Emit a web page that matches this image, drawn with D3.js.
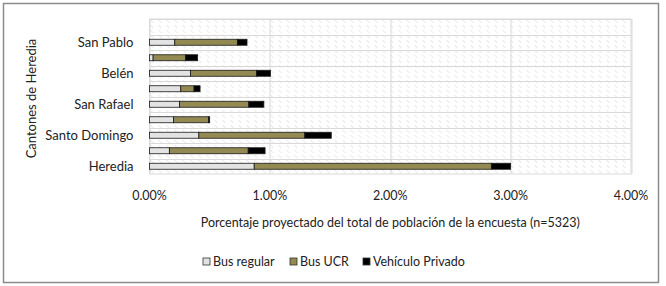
<!doctype html>
<html>
  <head>
    <meta charset="utf-8">
    <title>Cantones de Heredia</title>
    <script src="https://cdn.jsdelivr.net/npm/d3@7"></script>
    <style>
      body { margin: 0; background: #fff; }
      text { font-family: Lato, "Open Sans", sans-serif; fill: #222; }
    </style>
  </head>
  <body>
    <script>
      const width = 666;
      const height = 286;

      // datos (de abajo hacia arriba)
      const cantones = ['Heredia', 'Barva', 'Santo Domingo', 'Santa Bárbara', 'San Rafael',
                        'San Isidro', 'Belén', 'Flores', 'San Pablo', 'Sarapiquí'];
      const busRegular = [0.87, 0.165, 0.41, 0.20, 0.25, 0.26, 0.34, 0.03, 0.21, 0];
      const busUCR     = [1.97, 0.655, 0.88, 0.29, 0.575, 0.11, 0.55, 0.27, 0.52, 0];
      const privado    = [0.16, 0.14, 0.22, 0.01, 0.125, 0.05, 0.115, 0.10, 0.08, 0];
      const xTicks = [0, 1, 2, 3, 4];
      const series = ['Bus regular', 'Bus UCR', 'Vehículo Privado'];
      const colors = ['#e3e3e3', '#938953', '#000000'];

      const rows = cantones.map((c, i) => ({
        canton: c, 'Bus regular': busRegular[i], 'Bus UCR': busUCR[i], 'Vehículo Privado': privado[i]
      }));

      const margin = { top: 19, left: 149.5, right: 35, bottom: 112 };
      const plotW = width - margin.left - margin.right;
      const plotH = height - margin.top - margin.bottom;

      const svg = d3.select('body').append('svg')
          .attr('width', width)
          .attr('height', height);

      // marco exterior
      svg.append('rect')
          .attr('x', 3.5).attr('y', 3.5)
          .attr('width', 655).attr('height', 279)
          .attr('fill', '#fff')
          .attr('stroke', '#8c8c8c')
          .attr('stroke-width', 1.5);

      // patrón de fondo
      const pat = svg.append('defs').append('pattern')
          .attr('id', 'diag')
          .attr('patternUnits', 'userSpaceOnUse')
          .attr('width', 8).attr('height', 5);
      pat.append('line')
          .attr('x1', 1).attr('y1', 1).attr('x2', 4).attr('y2', 4)
          .attr('stroke', '#e2e2e2').attr('stroke-width', 1);

      const g = svg.append('g')
          .attr('transform', `translate(${margin.left},${margin.top})`);

      const x = d3.scaleLinear().domain([0, 4]).range([0, plotW]);
      const y = d3.scaleBand().domain(cantones).range([plotH, 0]);

      g.append('rect')
          .attr('width', plotW).attr('height', plotH)
          .attr('fill', 'url(#diag)')
          .attr('stroke', '#d9d9d9');

      // líneas de cuadrícula
      g.append('g')
        .selectAll('line')
        .data(cantones)
        .enter().append('line')
          .attr('x1', 0).attr('x2', plotW)
          .attr('y1', d => Math.round(y(d)) + 0.5)
          .attr('y2', d => Math.round(y(d)) + 0.5)
          .attr('stroke', '#d9d9d9');

      g.append('g')
        .selectAll('line')
        .data(xTicks)
        .enter().append('line')
          .attr('x1', d => Math.round(x(d)) + 0.5)
          .attr('x2', d => Math.round(x(d)) + 0.5)
          .attr('y1', 0).attr('y2', plotH)
          .attr('stroke', '#d9d9d9');

      // barras apiladas
      const stack = d3.stack().keys(series)(rows);
      const barH = 6;

      g.append('g')
        .selectAll('g')
        .data(stack)
        .enter().append('g')
          .attr('fill', (d, i) => colors[i])
        .selectAll('rect')
        .data(d => d.filter(p => p[1] - p[0] > 0))
        .enter().append('rect')
          .attr('x', d => x(d[0]))
          .attr('y', d => y(d.data.canton) + y.bandwidth() / 2 - barH / 2)
          .attr('width', d => x(d[1]) - x(d[0]))
          .attr('height', barH)
          .attr('stroke', '#1a1a1a')
          .attr('stroke-width', 0.8);

      // etiquetas de categoría (una sí, una no)
      g.append('g')
        .selectAll('text')
        .data(cantones.filter((d, i) => i % 2 === 0))
        .enter().append('text')
          .attr('x', -16)
          .attr('y', d => y(d) + y.bandwidth() / 2)
          .attr('dy', '0.35em')
          .attr('text-anchor', 'end')
          .style('font-size', '13px')
          .text(d => d);

      // etiquetas del eje x
      g.append('g')
        .selectAll('text')
        .data(xTicks)
        .enter().append('text')
          .attr('x', d => x(d))
          .attr('y', plotH + 26)
          .attr('text-anchor', 'middle')
          .style('font-size', '12.5px')
          .text(d => d3.format('.2f')(d) + '%');

      // títulos de los ejes
      g.append('text')
        .attr('x', plotW / 2)
        .attr('y', plotH + 53)
        .attr('text-anchor', 'middle')
        .style('font-size', '12.5px')
        .text('Porcentaje proyectado del total de población de la encuesta (n=5323)');

      svg.append('text')
        .attr('transform', `translate(36,${margin.top + plotH / 2 + 2}) rotate(-90)`)
        .attr('text-anchor', 'middle')
        .style('font-size', '13px')
        .text('Cantones de Heredia');

      // leyenda
      const legendX = [203, 290, 363];
      const legend = svg.append('g')
        .selectAll('g')
        .data(series)
        .enter().append('g')
          .attr('transform', (d, i) => `translate(${legendX[i]},262)`);

      legend.append('rect')
          .attr('x', 0).attr('y', -4)
          .attr('width', 7).attr('height', 7)
          .attr('fill', (d, i) => colors[i])
          .attr('stroke', '#333')
          .attr('stroke-width', 0.8);

      legend.append('text')
          .attr('x', 10)
          .attr('y', 0)
          .attr('dy', '0.35em')
          .style('font-size', '12.5px')
          .text(d => d);
    </script>
  </body>
</html>
